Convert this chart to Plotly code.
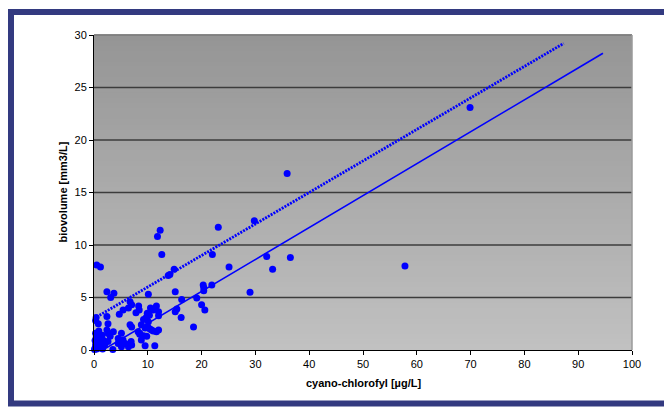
import plotly.graph_objects as go

# ---- data ----
chl = [69.9, 35.9, 57.8, 36.5, 32.1, 33.2, 25.1, 29.8, 23.1, 22.0, 29.0,
       20.3, 20.4, 20.4, 21.9, 20.0, 20.6, 19.1, 18.5, 16.3, 16.2, 15.4, 15.1, 15.1, 14.9, 14.1, 13.8, 12.6, 12.3, 11.8,
       12.0, 11.6, 11.0, 10.5, 10.1, 9.9, 10.3, 9.7, 9.2, 10.1, 9.8, 9.5, 10.0, 10.4, 10.7, 11.6, 12.0, 11.0, 9.8, 9.2,
       8.5, 8.2, 9.5, 11.3, 12.0,
       8.3, 8.4, 7.8, 7.0, 6.7, 6.4, 5.4, 4.7, 2.4, 2.4, 3.7, 3.1, 0.5, 1.2, 0.4, 0.8, 0.3,
       6.7, 7.0, 8.8, 2.6, 2.4, 3.6, 3.0, 4.5, 5.4, 5.8, 5.1, 6.4, 7.0, 6.9, 8.8, 8.5, 5.1, 2.6, 4.5, 5.1, 3.5, 2.6,
       0.1, 0.2, 0.3, 0.5, 0.6, 0.4, 0.7, 0.9, 1.0, 1.2, 1.4, 0.8, 1.5, 0.3, 1.8, 1.1, 2.0, 1.6, 0.6, 0.2]
bio = [23.1, 16.8, 8.0, 8.8, 8.9, 7.7, 7.9, 12.3, 11.7, 9.1, 5.5,
       6.2, 5.95, 5.65, 6.2, 4.3, 3.8, 4.95, 2.2, 4.8, 3.1, 3.9, 3.65, 5.55, 7.7, 7.2, 7.1, 9.1, 11.4, 10.8,
       3.65, 4.2, 3.8, 4.0, 5.3, 3.5, 3.3, 3.1, 2.9, 2.7, 3.0, 2.1, 2.2, 2.0, 1.9, 1.75, 1.9, 1.8, 1.3, 1.35,
       1.5, 1.75, 0.4, 0.4, 3.27,
       4.2, 3.8, 3.55, 4.3, 4.6, 4.0, 3.8, 3.4, 3.2, 5.55, 5.4, 5.0, 8.1, 7.9, 3.1, 2.5, 2.8,
       2.4, 2.2, 2.4, 2.5, 1.9, 1.75, 1.3, 1.1, 0.95, 0.63, 0.48, 0.32, 0.48, 0.8, 0.95, 1.6, 1.6, 0.8, 0.63, 0.3, 0.05, 1.6,
       0.05, 0.2, 0.5, 0.1, 0.8, 1.2, 1.5, 1.8, 0.3, 0.6, 1.0, 0.2, 1.4, 1.6, 0.9, 1.2, 0.5, 0.1, 0.4, 0.9]

# trend lines (endpoints)
trend_solid_x = [0, 94.6]
trend_solid_y = [-0.5, 28.26]
trend_dot_x = [0, 87.3]
trend_dot_y = [3.0, 29.2]

x_ticks = [0, 10, 20, 30, 40, 50, 60, 70, 80, 90, 100]
y_ticks = [0, 5, 10, 15, 20, 25, 30]
grid_y = [5, 10, 15, 20, 25]

BLUE = "#0000ff"
FONT = "Liberation Sans, Arial, sans-serif"

fig = go.Figure()
fig.add_trace(go.Scatter(x=chl, y=bio, mode="markers",
                         marker=dict(color=BLUE, size=7, line=dict(width=0)),
                         cliponaxis=False, showlegend=False))
fig.add_trace(go.Scatter(x=trend_solid_x, y=trend_solid_y, mode="lines",
                         line=dict(color=BLUE, width=1.6), showlegend=False))
fig.add_trace(go.Scatter(x=trend_dot_x, y=trend_dot_y, mode="lines",
                         line=dict(color=BLUE, width=2.8, dash="2px,1.2px"), showlegend=False))

shapes = []
# gradient background of the plot area
n = 60
top_c, bot_c = 149, 193
for i in range(n):
    y0 = i / n
    y1 = (i + 1) / n
    c = round(bot_c + (top_c - bot_c) * (i + 0.5) / n)
    shapes.append(dict(type="rect", xref="x domain", yref="y domain",
                       x0=0, x1=1, y0=y0, y1=y1 + 0.002,
                       fillcolor=f"rgb({c},{c},{c})", line=dict(width=0), layer="below"))
# horizontal gridlines
for g in grid_y:
    shapes.append(dict(type="line", xref="x domain", yref="y", x0=0, x1=1, y0=g, y1=g,
                       line=dict(color="#3c3c3c", width=1.6), layer="below"))
# top and right plot border (gray)
shapes.append(dict(type="line", xref="x domain", yref="y domain", x0=0, x1=1, y0=1, y1=1,
                   line=dict(color="#7a7a7a", width=1.5), layer="below"))
shapes.append(dict(type="line", xref="x domain", yref="y domain", x0=1, x1=1, y0=0, y1=1,
                   line=dict(color="#9a9a9a", width=1.5), layer="below"))
# outer frame
L, T, W, H = 94, 35, 538, 315
shapes.append(dict(type="rect", xref="paper", yref="paper",
                   x0=(11 - L) / W, x1=(670 - L) / W,
                   y0=(T + H - 403.5) / H, y1=(T + H - 12) / H,
                   line=dict(color="#333a80", width=6), fillcolor="rgba(0,0,0,0)"))

fig.update_layout(
    width=664, height=407,
    margin=dict(l=94, r=32, t=35, b=57),
    paper_bgcolor="white", plot_bgcolor="#c0c0c0",
    font=dict(family=FONT, size=11, color="black"),
    shapes=shapes,
    showlegend=False,
    annotations=[
        dict(text="<b>cyano-chlorofyl [µg/L]</b>", xref="paper", yref="paper",
             x=0.5, y=(T + H - 383) / H, showarrow=False, xanchor="center", yanchor="middle",
             font=dict(family=FONT, size=11)),
        dict(text="<b>biovolume [mm3/L]</b>", xref="paper", yref="paper",
             x=(62 - L) / W, y=0.5, textangle=-90, showarrow=False,
             xanchor="center", yanchor="middle", font=dict(family=FONT, size=11)),
    ],
)
fig.update_xaxes(range=[0, 100], tickvals=x_ticks, ticktext=[str(v) for v in x_ticks],
                 showgrid=False, zeroline=False, showline=True, linecolor="black", linewidth=1,
                 ticks="outside", ticklen=4, tickcolor="black", tickfont=dict(size=11))
fig.update_yaxes(range=[0, 30], tickvals=y_ticks, ticktext=[str(v) for v in y_ticks],
                 showgrid=False, zeroline=False, showline=True, linecolor="black", linewidth=1,
                 ticks="outside", ticklen=4, tickcolor="black", tickfont=dict(size=11))

fig.write_html("out.html", config={"displayModeBar": False},
               post_script="document.body.style.margin='0';document.body.style.overflow='hidden';")
